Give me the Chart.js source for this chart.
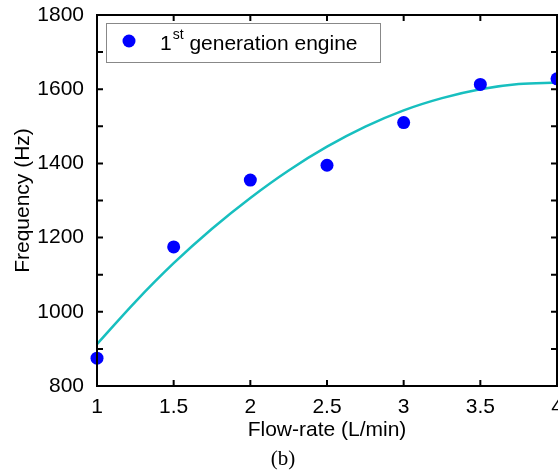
<!DOCTYPE html>
<html>
<head>
<meta charset="utf-8">
<script src="https://cdn.jsdelivr.net/npm/chart.js@4"></script>
<style>
  html, body { margin: 0; padding: 0; background: #fff; }
  #wrap { width: 558px; height: 474px; }
</style>
</head>
<body>
<div id="wrap"><canvas id="myChart" width="558" height="474"></canvas></div>
<script>
// measured points
const flowRate = [1, 1.5, 2, 2.5, 3, 3.5, 4];
const frequency = [875, 1175, 1355, 1395, 1510, 1613, 1628];

// fitted curve
const fitX = [1, 1.25, 1.5, 1.75, 2, 2.25, 2.5, 2.75, 3, 3.25, 3.5, 3.75, 4];
const fitY = [913, 1027, 1131, 1224, 1307, 1381, 1445, 1499, 1543, 1576, 1600, 1614, 1618];

const xTicks = [1, 1.5, 2, 2.5, 3, 3.5, 4];
const yTicks = [800, 1000, 1200, 1400, 1600, 1800];

const legendName = ["1", "st", " generation engine"];

const FONT = "'Liberation Sans', Arial, sans-serif";

// frame, inward ticks, legend and panel label
const framePlugin = {
  id: "frame",
  afterDraw(chart) {
    const c = chart.ctx;
    const a = chart.chartArea;
    const xs = chart.scales.x;
    const ys = chart.scales.y;
    c.save();
    c.strokeStyle = "#000";
    c.lineWidth = 2;
    c.strokeRect(a.left, a.top, a.right - a.left, a.bottom - a.top);
    c.beginPath();
    xs.ticks.forEach(function (t) {
      const px = xs.getPixelForValue(t.value);
      c.moveTo(px, a.bottom); c.lineTo(px, a.bottom - 6);
      c.moveTo(px, a.top); c.lineTo(px, a.top + 6);
    });
    ys.ticks.forEach(function (t) {
      const py = ys.getPixelForValue(t.value);
      c.moveTo(a.left, py); c.lineTo(a.left + 6, py);
      c.moveTo(a.right, py); c.lineTo(a.right - 6, py);
    });
    c.stroke();

    // legend box
    c.fillStyle = "#fff";
    c.fillRect(106, 23, 274, 39);
    c.strokeStyle = "#888";
    c.lineWidth = 1;
    c.strokeRect(106.5, 23.5, 274, 39);
    c.fillStyle = "#0000ff";
    c.beginPath();
    c.arc(129, 41, 6.5, 0, Math.PI * 2);
    c.fill();
    c.fillStyle = "#000";
    c.textBaseline = "alphabetic";
    c.textAlign = "left";
    let tx = 160;
    c.font = "21px " + FONT;
    c.fillText(legendName[0], tx, 50);
    tx += c.measureText(legendName[0]).width + 1;
    c.font = "14px " + FONT;
    c.fillText(legendName[1], tx, 39);
    tx += c.measureText(legendName[1]).width;
    c.font = "21px " + FONT;
    c.fillText(legendName[2], tx, 50);

    // panel label
    c.font = "21px 'Liberation Serif', 'Times New Roman', serif";
    c.textAlign = "center";
    c.textBaseline = "middle";
    c.fillText("(b)", 283, 459);
    c.restore();
  }
};

const ctx = document.getElementById("myChart").getContext("2d");
const myChart = new Chart(ctx, {
  type: "scatter",
  data: {
    datasets: [
      {
        label: "1st generation engine",
        data: flowRate.map((x, i) => ({ x: x, y: frequency[i] })),
        backgroundColor: "#0000ff",
        borderColor: "#0000ff",
        pointRadius: 6.5,
        pointHoverRadius: 6.5,
        borderWidth: 0,
        clip: false,
      },
      {
        label: "fit",
        data: fitX.map((x, i) => ({ x: x, y: fitY[i] })),
        showLine: true,
        borderColor: "#17bfbf",
        borderWidth: 2.5,
        pointRadius: 0,
        cubicInterpolationMode: "monotone",
        fill: false,
      },
    ],
  },
  options: {
    responsive: false,
    animation: false,
    events: [],
    layout: { autoPadding: false, padding: { top: 15, right: 1, left: 11, bottom: 31 } },
    plugins: {
      legend: { display: false },
      tooltip: { enabled: false },
    },
    scales: {
      x: {
        type: "linear",
        min: 1,
        max: 4,
        afterBuildTicks: (s) => { s.ticks = xTicks.map((v) => ({ value: v })); },
        afterFit: (s) => { s.height = 57; s.paddingLeft = 0; s.paddingRight = 0; },
        grid: { display: false },
        border: { display: false },
        ticks: {
          color: "#000",
          font: { family: FONT, size: 21 },
          padding: 1,
          maxRotation: 0,
          autoSkip: false,
          callback: (v) => String(v),
        },
        title: {
          display: true,
          text: "Flow-rate (L/min)",
          color: "#000",
          font: { family: FONT, size: 21 },
          padding: 0,
        },
      },
      y: {
        type: "linear",
        min: 800,
        max: 1800,
        afterBuildTicks: (s) => {
          const t = [];
          for (let v = 800; v <= 1800; v += 100) t.push({ value: v });
          s.ticks = t;
        },
        afterFit: (s) => { s.width = 86; s.paddingTop = 0; s.paddingBottom = 0; },
        grid: { display: false },
        border: { display: false },
        ticks: {
          color: "#000",
          font: { family: FONT, size: 21 },
          padding: 5,
          autoSkip: false,
          callback: (v) => (yTicks.includes(v) ? String(v) : ""),
        },
        title: {
          display: true,
          text: "Frequency (Hz)",
          color: "#000",
          font: { family: FONT, size: 21 },
          padding: 0,
        },
      },
    },
  },
  plugins: [framePlugin],
});
</script>
</body>
</html>
